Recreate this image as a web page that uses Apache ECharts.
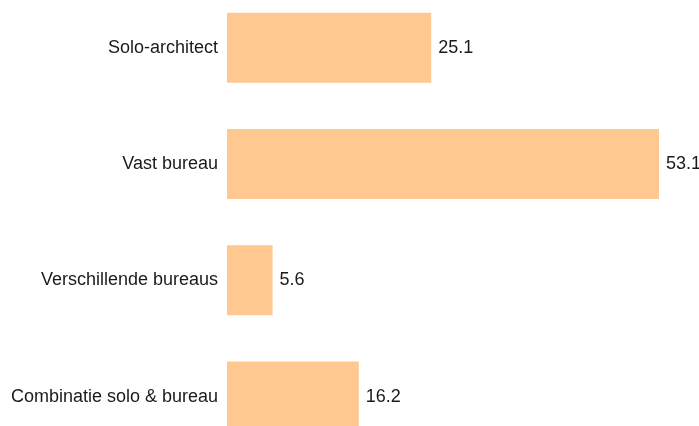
<!DOCTYPE html>
<html>
<head>
<meta charset="utf-8">
<script src="https://cdn.jsdelivr.net/npm/echarts@6/dist/echarts.min.js"></script>
<style>
  html, body { margin: 0; padding: 0; background: #fff; }
  #chart { width: 699px; height: 426px; }
</style>
</head>
<body>
<div id="chart"></div>
<script>
const categories = ["Solo-architect", "Vast bureau", "Verschillende bureaus", "Combinatie solo & bureau"];
const values = [25.1, 53.1, 5.6, 16.2];

const chart = echarts.init(document.getElementById("chart"), null, { renderer: "canvas" });

chart.setOption({
  animation: false,
  backgroundColor: "#ffffff",
  grid: {
    left: 227,
    right: 40,
    top: -10.5,
    bottom: -28.7,
    containLabel: false,
    outerBoundsMode: "none"
  },
  xAxis: {
    type: "value",
    min: 0,
    max: 53.1,
    show: false
  },
  yAxis: {
    type: "category",
    data: categories,
    inverse: true,
    axisLine: { show: false },
    axisTick: { show: false },
    axisLabel: {
      margin: 9,
      fontSize: 18,
      fontFamily: "Liberation Sans, Arial, sans-serif",
      color: "#1a1a1a"
    }
  },
  series: [{
    type: "bar",
    data: values,
    barWidth: 70,
    itemStyle: { color: "#fec890" },
    label: {
      show: true,
      position: "right",
      distance: 7,
      fontSize: 18,
      fontFamily: "Liberation Sans, Arial, sans-serif",
      color: "#1a1a1a"
    }
  }]
});
</script>
</body>
</html>
